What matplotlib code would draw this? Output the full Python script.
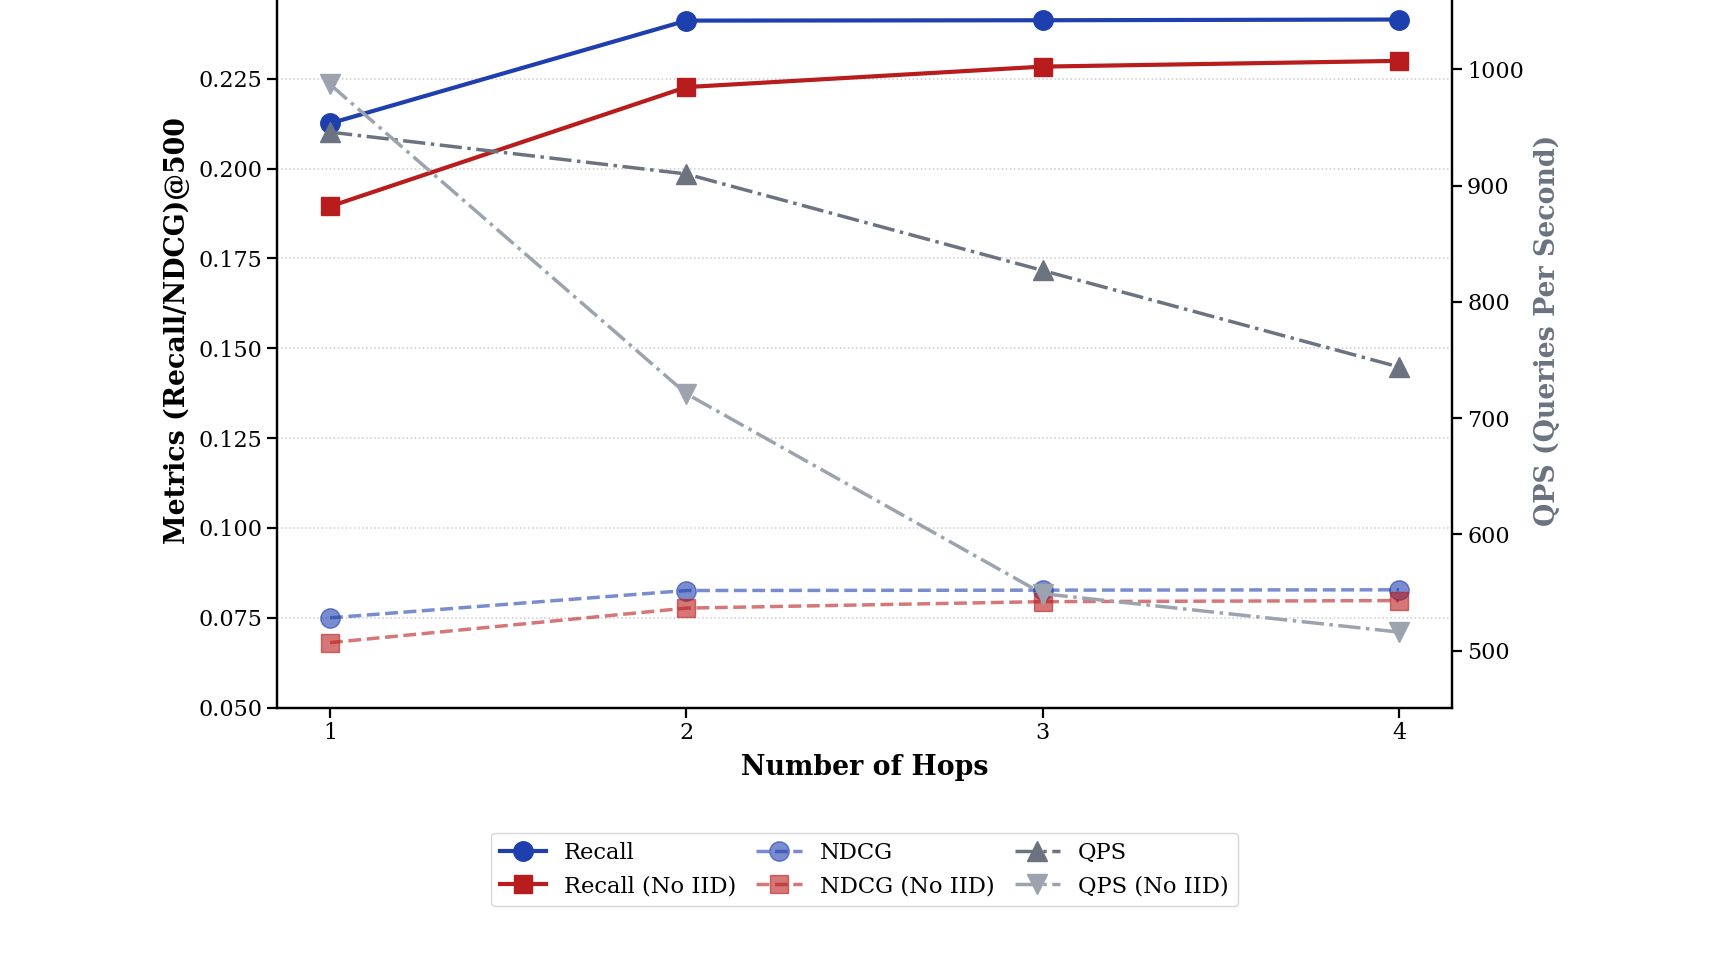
import matplotlib.pyplot as plt

# --- data ---
hops = [1, 2, 3, 4]
recall = [0.2126, 0.2412, 0.2413, 0.2415]
recall_no_iid = [0.1895, 0.2227, 0.2284, 0.2300]
ndcg = [0.0750, 0.0826, 0.0827, 0.0828]
ndcg_no_iid = [0.0681, 0.0777, 0.0795, 0.0798]
qps = [946, 910, 827, 744]
qps_no_iid = [987, 721, 549, 516]

left_ticks = [0.050, 0.075, 0.100, 0.125, 0.150, 0.175, 0.200, 0.225]
right_ticks = [500, 600, 700, 800, 900, 1000]

BLUE = '#1E40AF'
RED = '#B91C1C'
GRAY = '#6B7280'
LIGHT_GRAY = '#9CA3AF'

plt.rcParams['font.family'] = ['DejaVu Serif']

fig = plt.figure(figsize=(17.15, 9.8), dpi=100)
# the top of the axes sits above the canvas, as in the reference
ax1 = fig.add_axes([0.1613, 0.2779, 0.6856, 0.770])
ax2 = ax1.twinx()

ax1.plot(hops, recall, color=BLUE, lw=3, marker='o', ms=14, label='Recall')
ax1.plot(hops, recall_no_iid, color=RED, lw=3, marker='s', ms=12.5, label='Recall (No IID)')
ax1.plot(hops, ndcg, color=BLUE, lw=2.5, ls='--', marker='o', ms=14, alpha=0.6, label='NDCG')
ax1.plot(hops, ndcg_no_iid, color=RED, lw=2.5, ls='--', marker='s', ms=12.5, alpha=0.6, label='NDCG (No IID)')

ax2.plot(hops, qps, color=GRAY, lw=2.5, ls='-.', marker='^', ms=14, label='QPS')
ax2.plot(hops, qps_no_iid, color=LIGHT_GRAY, lw=2.5, ls='-.', marker='v', ms=14, label='QPS (No IID)')

ax1.set_ylim(0.05, 0.26)
ax2.set_ylim(451, 1100)
ax1.set_xticks(hops)
ax1.set_yticks(left_ticks)
ax2.set_yticks(right_ticks)

ax1.set_xlabel('Number of Hops', fontsize=19.3, fontweight='bold', labelpad=7)
ax1.set_ylabel('Metrics (Recall/NDCG)@500', fontsize=19.3, fontweight='bold', labelpad=5)
ax2.set_ylabel('QPS (Queries Per Second)', fontsize=19.3, fontweight='bold', color=GRAY, labelpad=7)

for ax in (ax1, ax2):
    ax.tick_params(labelsize=16, width=1.6, length=7)
    for sp in ax.spines.values():
        sp.set_linewidth(1.6)

ax1.yaxis.grid(True, ls=':', color='#CCCCCC', lw=1.1)
ax1.set_axisbelow(True)

h1, l1 = ax1.get_legend_handles_labels()
h2, l2 = ax2.get_legend_handles_labels()
ax1.legend(h1 + h2, l1 + l2, loc='upper center', bbox_to_anchor=(0.5, -0.151),
           ncol=3, fontsize=16.3, columnspacing=0.9, frameon=True, edgecolor='#CCCCCC')

fig.savefig('out.png', dpi=100)
